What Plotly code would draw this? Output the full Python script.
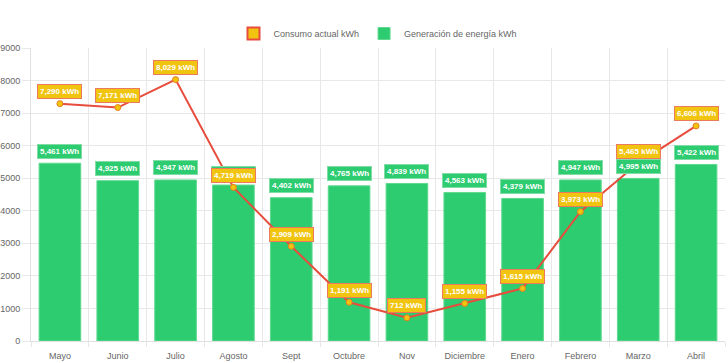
import plotly.graph_objects as go

months = ["Mayo", "Junio", "Julio", "Agosto", "Sept", "Octubre", "Nov",
          "Diciembre", "Enero", "Febrero", "Marzo", "Abril"]
consumo = [7290, 7171, 8029, 4719, 2909, 1191, 712, 1155, 1615, 3973, 5465, 6606]
generacion = [5461, 4925, 4947, 4790, 4402, 4765, 4839, 4563, 4379, 4947, 4995, 5422]
y_ticks = [0, 1000, 2000, 3000, 4000, 5000, 6000, 7000, 8000, 9000]

GREEN = "#2ecc71"
RED = "#e74c3c"
YELLOW = "#f1c40f"
FONT = "Liberation Sans"

x = list(range(len(months)))

fig = go.Figure()

# legend-only proxy for the line series (box swatch like the reference)
fig.add_trace(go.Bar(x=[None], y=[None], name="Consumo actual kWh",
                     marker=dict(color=YELLOW, line=dict(color=RED, width=2)),
                     showlegend=True, legendrank=1))

fig.add_trace(go.Bar(x=x, y=generacion, name="Generación de energía kWh",
                     marker=dict(color=GREEN, line=dict(color="#5fd98f", width=1)),
                     legendrank=2, hoverinfo="skip"))

fig.add_trace(go.Scatter(x=x, y=consumo, mode="lines+markers", name="Consumo actual kWh",
                         line=dict(color=RED, width=2),
                         marker=dict(color=YELLOW, size=6, line=dict(color="#e67e22", width=1)),
                         showlegend=False, hoverinfo="skip"))

annotations = []
for i, v in enumerate(generacion):
    annotations.append(dict(x=i, y=v, xref="x", yref="y", yshift=12, showarrow=False,
                            text=f"<b>{v:,} kWh</b>", font=dict(color="white", size=8, family=FONT),
                            bgcolor=GREEN, bordercolor="#7fdda5", borderwidth=1, borderpad=2))
for i, v in enumerate(consumo):
    annotations.append(dict(x=i, y=v, xref="x", yref="y", yshift=12, showarrow=False,
                            text=f"<b>{v:,} kWh</b>", font=dict(color="white", size=8, family=FONT),
                            bgcolor=YELLOW, bordercolor="#ec7a5c", borderwidth=1, borderpad=2))

fig.update_layout(
    width=728, height=363,
    margin=dict(l=31, r=3, t=48, b=22, autoexpand=False),
    paper_bgcolor="white", plot_bgcolor="white",
    font=dict(family=FONT, size=9, color="#666666"),
    bargap=0.28,
    showlegend=True,
    legend=dict(orientation="h", x=0.5, xanchor="center", y=1.0, yanchor="bottom",
                font=dict(size=9, color="#666666", family=FONT),
                traceorder="normal"),
    annotations=annotations,
    xaxis=dict(range=[-0.5, len(months) - 0.5], tickvals=x, ticktext=months,
               showgrid=False, zeroline=False, showline=True, linecolor="#e0e0e0",
               ticks="", tickfont=dict(size=9, color="#666666"), automargin=False,
               ticklabelstandoff=6,
               minor=dict(tickvals=[i - 0.5 for i in range(len(months) + 1)],
                          showgrid=True, gridcolor="#e8e8e8", ticks="outside",
                          ticklen=5, tickcolor="#e8e8e8")),
    yaxis=dict(range=[0, 9000], tickvals=y_ticks, showgrid=True, gridcolor="#e8e8e8",
               zeroline=False, showline=True, linecolor="#e0e0e0", automargin=False,
               ticks="outside", ticklen=8, tickcolor="#e8e8e8",
               tickfont=dict(size=9, color="#666666")),
)

# remove the default 8px page margin so the figure sits at the window's corner
fig.write_html("out.html", config={"displayModeBar": False},
               post_script="document.body.style.margin='0';")
